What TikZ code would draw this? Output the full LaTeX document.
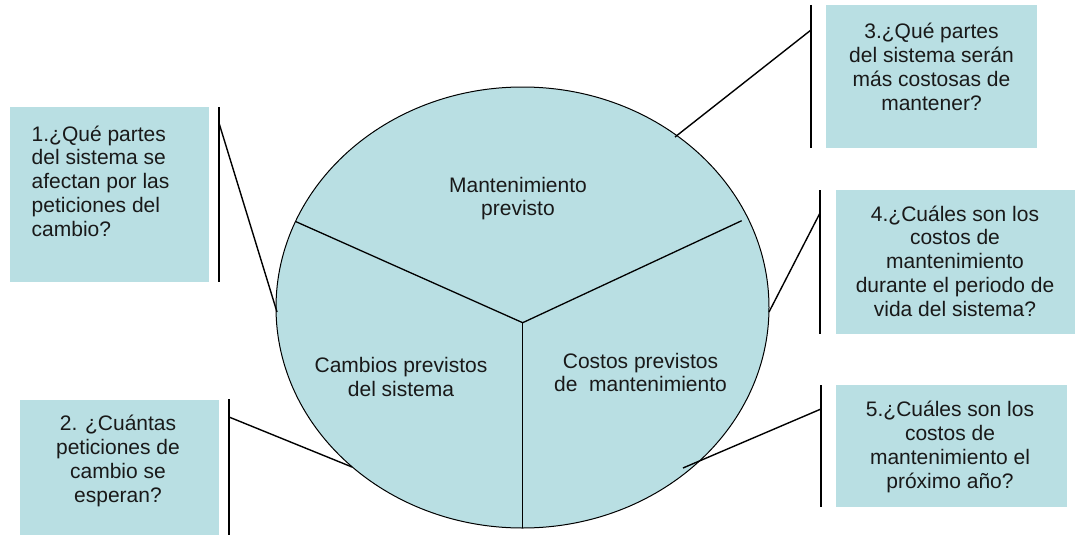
\documentclass[tikz,border=0pt]{standalone}
\usepackage{fontspec}
\setmainfont{Liberation Sans}
\usetikzlibrary{shapes.geometric}
\definecolor{boxfill}{RGB}{185,223,227}
\begin{document}
\begin{tikzpicture}[x=1pt,y=-1pt,
  qbox/.style={fill=boxfill, draw=none, inner sep=0pt, outer sep=0pt},
  txt/.style={font=\fontsize{21}{23.8}\selectfont, inner sep=0pt, align=center, text=black!90},
  bar/.style={line width=1.8pt, black},
  conn/.style={line width=1.4pt, black},
  divider/.style={line width=1.3pt, black}]
\useasboundingbox (0,0) rectangle (1079,535);
% boxes
\node[qbox, minimum width=199pt, minimum height=175pt] (b1) at (109.5,194.5) {};
\node[qbox, minimum width=199pt, minimum height=135pt] (b2) at (119.5,467.5) {};
\node[qbox, minimum width=211pt, minimum height=143pt] (b3) at (931.5,76.5) {};
\node[qbox, minimum width=239pt, minimum height=144pt] (b4) at (955.5,262) {};
\node[qbox, minimum width=231pt, minimum height=122pt] (b5) at (951.5,446) {};
% ellipse
\node[ellipse, draw, line width=1pt, fill=boxfill, minimum width=493pt, minimum height=441pt, inner sep=0pt] (el) at (522.5,307.5) {};
% dividers
\coordinate (ctr) at (522.7,322.7);
\coordinate (dl) at (296,221.7);
\coordinate (dr) at (741.7,220.7);
\coordinate (db) at (522.7,528);
\draw[divider] (dl) -- (ctr) -- (dr);
\draw[divider] (ctr) -- (db);
% bars
\coordinate (t1) at (219,107); \coordinate (u1) at (219,282);
\coordinate (t2) at (229,399); \coordinate (u2) at (229,535);
\coordinate (t3) at (811,5);   \coordinate (u3) at (811,148);
\coordinate (t4) at (820,190); \coordinate (u4) at (820,334);
\coordinate (t5) at (821,385); \coordinate (u5) at (821,507);
\draw[bar] (t1) -- (u1);
\draw[bar] (t2) -- (u2);
\draw[bar] (t3) -- (u3);
\draw[bar] (t4) -- (u4);
\draw[bar] (t5) -- (u5);
% connectors
\coordinate (s1) at (219,123); \coordinate (e1) at (277,312);
\coordinate (s2) at (229,417); \coordinate (e2) at (352,467);
\coordinate (s3) at (811,30);  \coordinate (e3) at (675,137);
\coordinate (s4) at (820,213); \coordinate (e4) at (769,312);
\coordinate (s5) at (821,409); \coordinate (e5) at (683,468);
\draw[conn] (s1) -- (e1);
\draw[conn] (s2) -- (e2);
\draw[conn] (s3) -- (e3);
\draw[conn] (s4) -- (e4);
\draw[conn] (s5) -- (e5);
% texts
\node[txt, align=left, anchor=west] (q1) at (31.5,181) {1.¿Qué partes\\del sistema se\\afectan por las\\peticiones del\\cambio?};
\node[txt] (q2) at (118,461) {2. ¿Cuántas\\peticiones de\\cambio se\\esperan?};
\node[txt] (q3) at (931.5,67) {3.¿Qué partes\\del sistema serán\\más costosas de\\mantener?};
\node[txt] (q4) at (955,261) {4.¿Cuáles son los\\costos de\\mantenimiento\\durante el periodo de\\vida del sistema?};
\node[txt] (q5) at (950,447) {5.¿Cuáles son los\\costos de\\mantenimiento el\\próximo año?};
\node[txt] (m1) at (518,198.5) {Mantenimiento\\previsto};
\node[txt] (m2) at (401,377) {Cambios previstos\\del sistema};
\node[txt] (m3) at (640.5,372.5) {Costos previstos\\de\ \ mantenimiento};
\end{tikzpicture}
\end{document}
